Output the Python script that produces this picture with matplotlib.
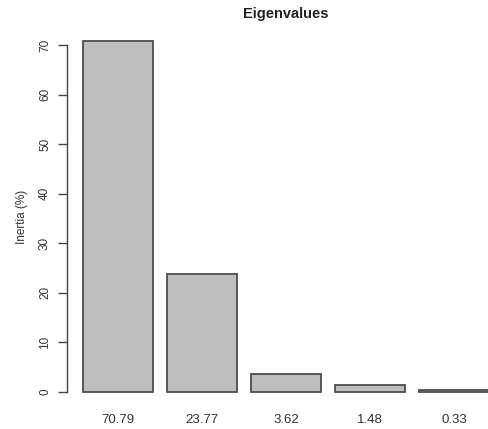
import matplotlib.pyplot as plt
import numpy as np

# valeurs propres (% d'inertie)
valeurs = [70.79, 23.77, 3.62, 1.48, 0.33]
etiquettes = ['70.79', '23.77', '3.62', '1.48', '0.33']
graduations_y = [0, 10, 20, 30, 40, 50, 60, 70]

plt.rcParams['font.family'] = ['Liberation Sans', 'DejaVu Sans']

fig = plt.figure(figsize=(4.89, 4.29), dpi=100)
ax = fig.add_axes([67 / 489, 23 / 429, 422 / 489, 379 / 429])

# barres facon R : largeur 1, espace 0.2
gauche = 0.2 + 1.2 * np.arange(len(valeurs))
centres = gauche + 0.5
ax.bar(centres, valeurs, width=1.0, color='#bebebe', edgecolor='#4d4d4d', linewidth=1.3)

ax.set_xlim(-0.03, 6.0)
ax.set_ylim(-0.04 * max(valeurs), 1.04 * max(valeurs))

for s in ['top', 'right', 'bottom']:
    ax.spines[s].set_visible(False)
ax.spines['left'].set_bounds(0, 70)
ax.spines['left'].set_color('#444444')
ax.spines['left'].set_linewidth(1.0)

ax.set_yticks(graduations_y)
ax.set_yticklabels([str(v) for v in graduations_y], rotation=90, va='center', fontsize=8.5, color='#333333')
ax.tick_params(axis='y', length=6.5, width=1.0, color='#444444', pad=5)

ax.set_xticks(centres)
ax.set_xticklabels(etiquettes, fontsize=9.5, color='#333333')
ax.tick_params(axis='x', length=0, pad=6)

ax.set_ylabel('Inertia (%)', fontsize=8.5, color='#333333', labelpad=8)
fig.text(286 / 489, 1 - 14 / 429, 'Eigenvalues', ha='center', va='center',
         fontsize=10.5, fontweight='bold', color='#222222')

fig.savefig('out.png', dpi=100)
